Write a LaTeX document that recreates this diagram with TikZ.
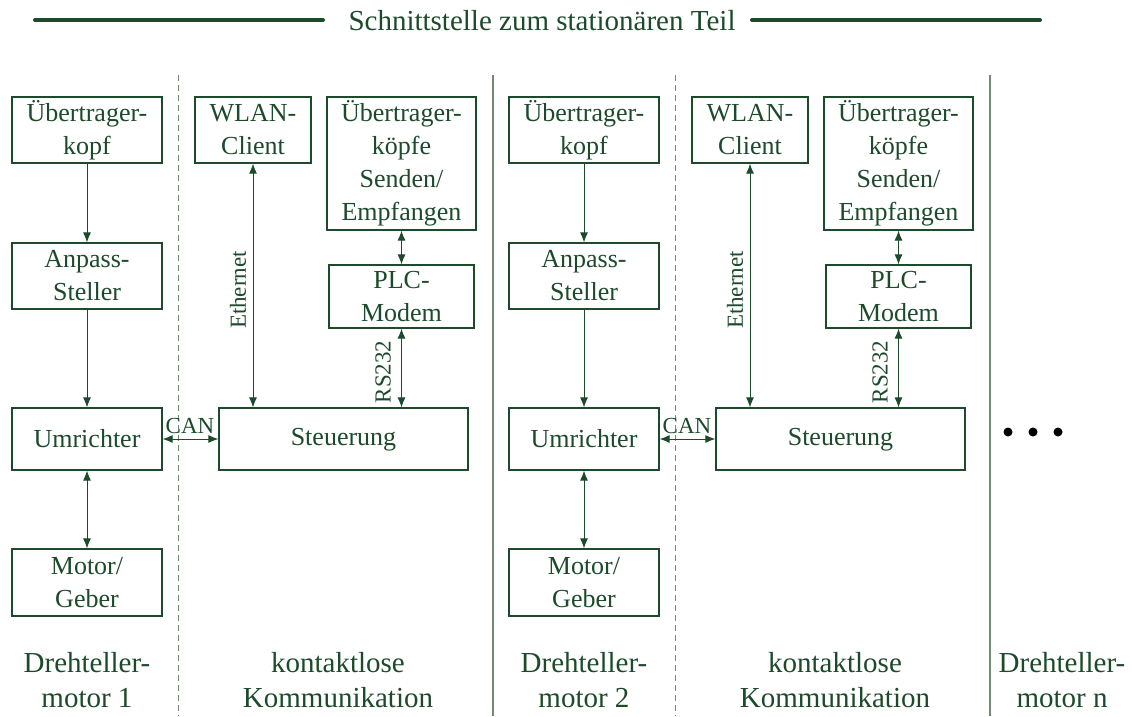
\documentclass[tikz,border=0pt]{standalone}
\usepackage{fontspec}
\setmainfont{Liberation Serif}
\usetikzlibrary{arrows.meta}
\definecolor{dgreen}{RGB}{28,74,42}
\definecolor{lgreen}{RGB}{110,140,115}
\tikzset{
  box/.style={draw=dgreen, line width=1.3pt, text=dgreen, align=center, inner sep=0pt,
    font=\fontsize{26}{33}\selectfont},
  tip/.style={Latex[length=10pt,width=8pt]},
  conn/.style={draw=dgreen, line width=0.9pt, -{Latex[length=10pt,width=8pt]}},
  bconn/.style={draw=dgreen, line width=0.9pt, {Latex[length=10pt,width=8pt]}-{Latex[length=10pt,width=8pt]}},
  lbl/.style={text=dgreen, inner sep=0pt, font=\fontsize{23}{26}\selectfont},
  caption/.style={text=dgreen, align=center, inner sep=0pt, font=\fontsize{29}{35}\selectfont},
  divdash/.style={draw=lgreen, line width=0.9pt, dash pattern=on 6pt off 4pt},
  divsolid/.style={draw=lgreen, line width=1.2pt},
  bar/.style={draw=dgreen, line width=4pt, line cap=round}
}
\begin{document}
\begin{tikzpicture}[x=1pt, y=-1pt]
\useasboundingbox (0,0) rectangle (1132,716);

% heading with bars on both sides
\node[caption] (title) at (542,21) {Schnittstelle zum stationären Teil};
\coordinate (barL1) at (35,20);  \coordinate (barL2) at (323,20);
\coordinate (barR1) at (752,20); \coordinate (barR2) at (1040,20);
\draw[bar] (barL1) -- (barL2);
\draw[bar] (barR1) -- (barR2);

% column separators
\foreach \x/\s in {178/divdash, 493/divsolid, 675/divdash, 990/divsolid}{
  \coordinate (top\x) at (\x,75);
  \coordinate (bot\x) at (\x,716);
  \draw[\s] (top\x) -- (bot\x);
}

% two identical groups: drive unit + contactless communication
\foreach \n/\off/\p in {1/0/a-, 2/497/b-}{
\begin{scope}[xshift=\off pt, name prefix=\p]
  \node[box, minimum width=150pt, minimum height=66pt] (kopf) at (87,130) {Übertrager-\\kopf};
  \node[box, minimum width=150pt, minimum height=66pt] (anp) at (87,276) {Anpass-\\Steller};
  \node[box, minimum width=150pt, minimum height=62pt] (umr) at (87,439) {Umrichter};
  \node[box, minimum width=150pt, minimum height=67pt] (mot) at (87,582.5) {Motor/\\Geber};
  \node[box, minimum width=116pt, minimum height=66pt] (wlan) at (253,130) {WLAN-\\Client};
  \node[box, minimum width=149pt, minimum height=133pt] (ktx) at (401.5,163.5) {Übertrager-\\köpfe\\Senden/\\Empfangen};
  \node[box, minimum width=145pt, minimum height=63pt] (plc) at (401.5,296.5) {PLC-\\Modem};
  \node[box, minimum width=249pt, minimum height=62pt] (steu) at (343.5,439) {Steuerung\strut};

  \draw[conn] (kopf) -- (anp);
  \draw[conn] (anp) -- (umr);
  \draw[bconn] (umr) -- (mot);
  \draw[bconn] (umr) -- (steu);
  \draw[bconn] (wlan.south) -- (wlan.south |- steu.north);
  \draw[bconn] (ktx) -- (plc);
  \draw[bconn] (plc) -- (plc |- steu.north);

  \node[lbl] (can) at (190,426) {CAN};
  \node[lbl, rotate=90] (eth) at (238,290) {Ethernet};
  \node[lbl, rotate=90] (rs) at (383,372) {RS232};

  \node[caption] (cap1) at (87,680) {Drehteller-\\motor \n};
  \node[caption] (cap2) at (338,680) {kontaktlose\\Kommunikation};
\end{scope}
}

\node[caption] (capn) at (1062,680) {Drehteller-\\motor n};

% continuation dots
\foreach \x in {1008,1033,1058}{
  \fill[black] (\x,432) circle (4.5pt);
}
\end{tikzpicture}
\end{document}
